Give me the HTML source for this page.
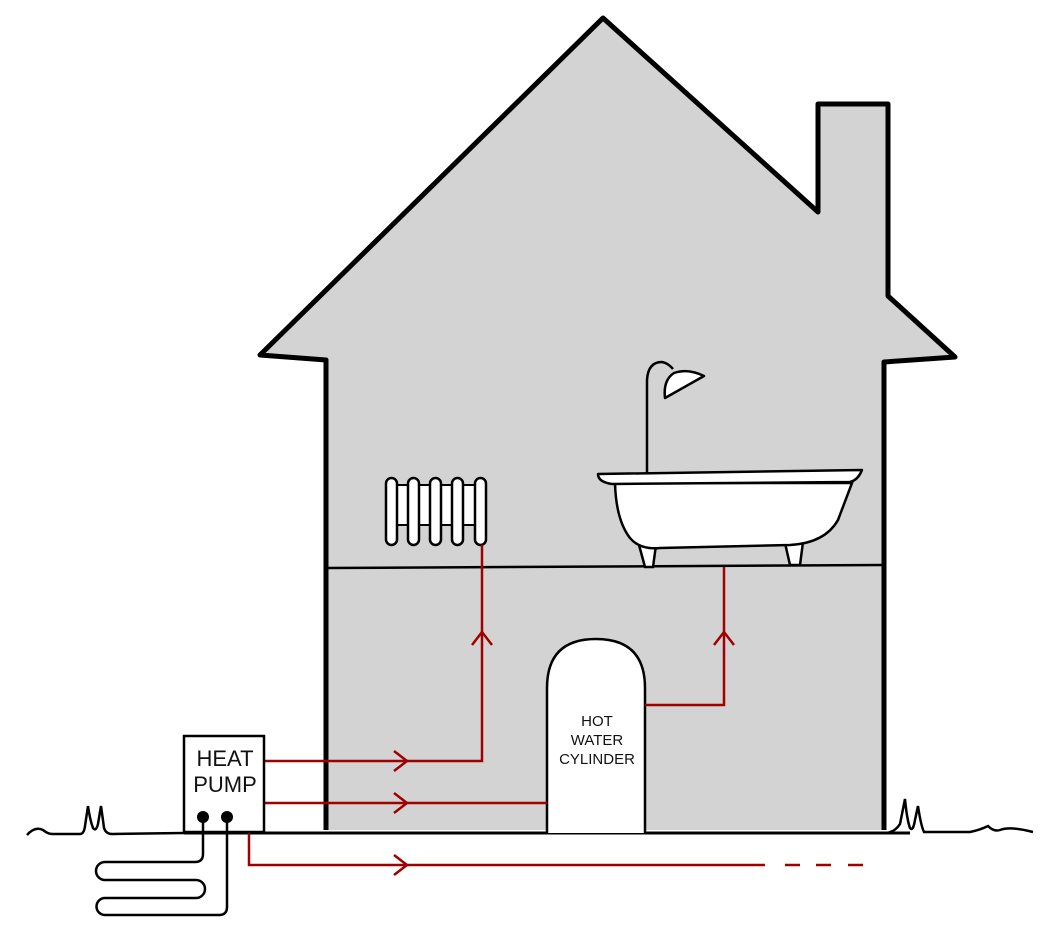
<!DOCTYPE html>
<html><head><meta charset="utf-8"><style>
html,body{margin:0;padding:0;background:#fff;}
svg{display:block;}
text{font-family:"Liberation Sans Narrow","Liberation Sans",sans-serif;fill:#111;}
</style></head><body>
<svg width="1054" height="934" viewBox="0 0 1054 934" xmlns="http://www.w3.org/2000/svg">
<!-- house -->
<path d="M603,18 L818,212 L818,104 L888,104 L888,296 L955,357 L884,362 L884,833 L326,833 L326,360 L260,355 Z" fill="#d3d3d3" stroke="#000" stroke-width="5" stroke-linejoin="round"/>
<rect x="320" y="830" width="570" height="6" fill="#fff"/>
<!-- floor -->
<line x1="326" y1="568" x2="884" y2="565" stroke="#000" stroke-width="2.5"/>
<!-- ground -->
<path d="M27,835 Q35,826 43,830 Q48,834 52,834 L80,834 Q84,834 85,826 L88,806 Q90,820 93,828 Q96,832 98,824 L101,806 Q103,820 104,828 Q106,834 112,834 L184,833" fill="none" stroke="#000" stroke-width="2.5"/>
<line x1="184" y1="833" x2="910" y2="833" stroke="#000" stroke-width="3"/>
<path d="M886,833 Q895,832 900,824 L905,799 Q907,820 910,828 Q913,832 915,820 L918,806 Q921,826 924,832 L970,832 Q980,830 988,826 Q994,832 1000,830 Q1010,826 1033,832" fill="none" stroke="#000" stroke-width="2.5"/>
<!-- radiator -->
<rect x="392" y="485" width="92" height="40" fill="#fff" stroke="#000" stroke-width="2"/>
<g fill="#fff" stroke="#000" stroke-width="2.5">
<rect x="386" y="478" width="11" height="67" rx="5.5"/>
<rect x="408" y="478" width="11" height="67" rx="5.5"/>
<rect x="430" y="478" width="11" height="67" rx="5.5"/>
<rect x="452" y="478" width="11" height="67" rx="5.5"/>
<rect x="475" y="478" width="11" height="67" rx="5.5"/>
</g>
<!-- shower -->
<path d="M647,474 L647,380 Q648,362 662,362 Q668,363 673,369" fill="none" stroke="#000" stroke-width="2.5"/>
<path d="M704,376 Q688,368 674,373 Q663,380 665,398 Z" fill="#fff" stroke="#000" stroke-width="2.5" stroke-linejoin="round"/>
<!-- bath legs -->
<path d="M639,545 L645,567 L653,567 L656,545 Z" fill="#fff" stroke="#000" stroke-width="2.5"/>
<path d="M785,543 L790,565 L800,565 L803,542 Z" fill="#fff" stroke="#000" stroke-width="2.5"/>
<!-- bath -->
<path d="M615,483 Q616,520 630,538 Q640,550 660,548 L790,545 Q825,543 838,520 L852,483 Z" fill="#fff" stroke="#000" stroke-width="2.5"/>
<path d="M598,474 L862,470 Q858,480 850,482 L612,484 Q598,482 598,474 Z" fill="#fff" stroke="#000" stroke-width="2.5" stroke-linejoin="round"/>
<!-- hot water cylinder -->
<path d="M547,833 L547,688 Q547,639 596,639 Q645,639 645,688 L645,833" fill="#fff" stroke="#000" stroke-width="2.5"/>
<text x="597" y="726" font-size="15" text-anchor="middle">HOT</text>
<text x="597" y="745" font-size="15" text-anchor="middle">WATER</text>
<text x="597" y="764" font-size="15" text-anchor="middle">CYLINDER</text>
<!-- red pipes -->
<g fill="none" stroke="#a00000" stroke-width="2.5">
<path d="M264,761 L482,761 L482,545"/>
<path d="M264,803 L547,803"/>
<path d="M249,833 L249,865 L765,865"/>
<path d="M785,865 H800 M816,865 H831 M848,865 H863"/>
<path d="M645,705 L724,705 L724,567"/>
<path d="M394,751 L407,761 L394,771"/>
<path d="M394,793 L407,803 L394,813"/>
<path d="M394,855 L407,865 L394,875"/>
<path d="M472,645 L482,632 L492,645"/>
<path d="M714,645 L724,632 L734,645"/>
</g>
<!-- heat pump -->
<rect x="184" y="736" width="80" height="96" fill="#fff" stroke="#000" stroke-width="2.5"/>
<text x="225" y="766" font-size="22" text-anchor="middle">HEAT</text>
<text x="225" y="792" font-size="22" text-anchor="middle">PUMP</text>
<circle cx="203" cy="817" r="6" fill="#000"/>
<circle cx="227" cy="817" r="6" fill="#000"/>
<!-- ground loop -->
<path d="M203,817 L203,854 Q203,862 195,862 L105,862 A9,9 0 0 0 105,880 L196,880 A9,9 0 0 1 196,898 L105,898 A8.5,8.5 0 0 0 105,915 L219,915 Q227,915 227,907 L227,817" fill="none" stroke="#000" stroke-width="2.5"/>
</svg>
</body></html>
